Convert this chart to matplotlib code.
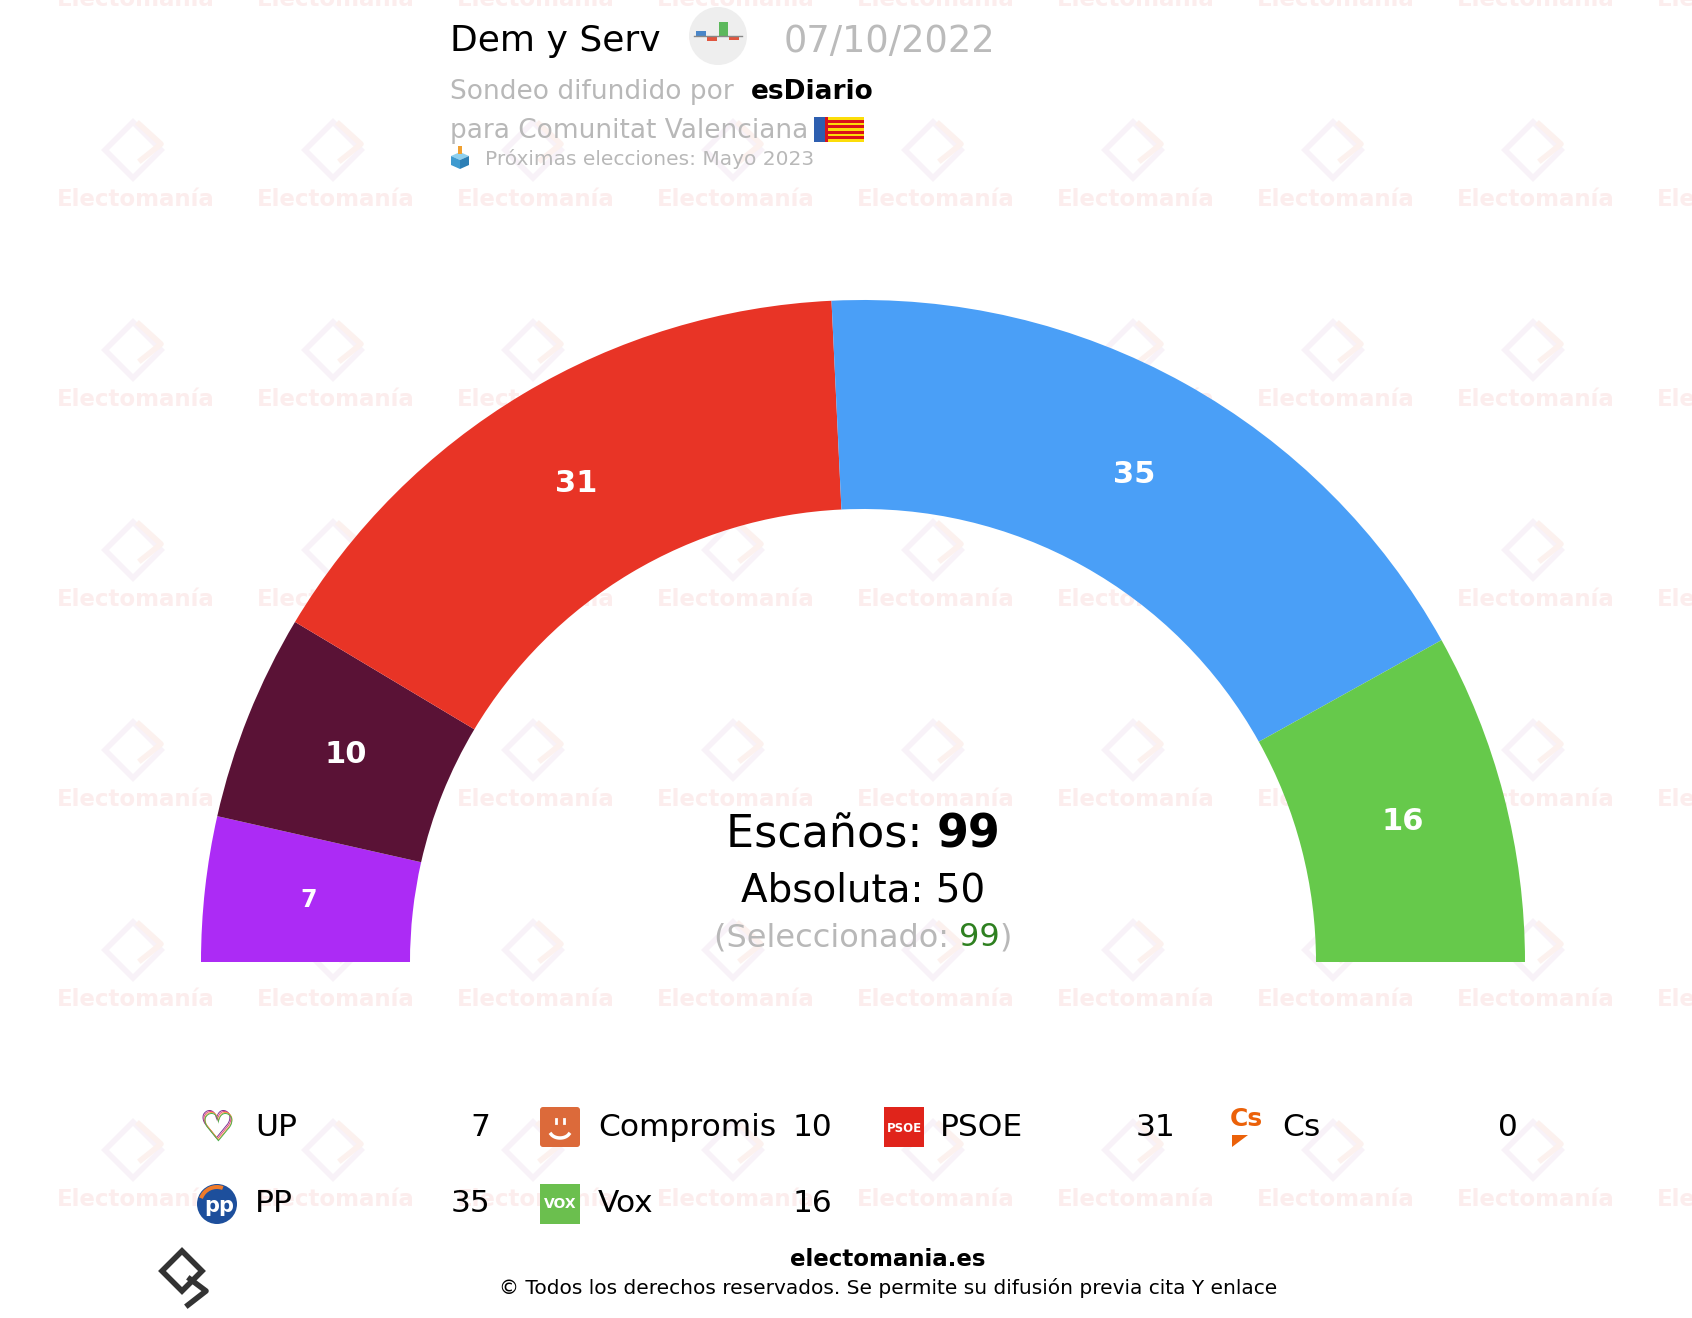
import numpy as np
import matplotlib
matplotlib.use("Agg")
import matplotlib.pyplot as plt
from matplotlib.patches import Wedge, Rectangle, Circle, Polygon, FancyBboxPatch

# DATA
parties = ["UP", "Compromis", "PSOE", "PP", "Vox", "Cs"]
seats = [7, 10, 31, 35, 16, 0]
colors = ["#AC2BF5", "#5A1236", "#E83426", "#4A9FF7", "#66C94B", "#EB6109"]
arc_order = ["UP", "Compromis", "PSOE", "PP", "Vox"]
legend_rows = [["UP", "Compromis", "PSOE", "Cs"], ["PP", "Vox"]]
total_seats = 99
majority = 50
selected = 99
pollster = "Dem y Serv"
poll_date = "07/10/2022"
media = "esDiario"
region = "Comunitat Valenciana"
next_election = "Próximas elecciones: Mayo 2023"

W, H = 1692, 1318
fig = plt.figure(figsize=(W / 100, H / 100), dpi=100)
ax = fig.add_axes([0, 0, 1, 1])
ax.set_xlim(0, W)
ax.set_ylim(H, 0)
ax.axis("off")
renderer = fig.canvas.get_renderer()

GRAY = "#B8B8B8"


def put_pieces(x, y, pieces, align="left", va="center"):
    # pieces: list of (text, kwargs); laid out one after another
    objs = []
    for s, kw in pieces:
        objs.append(ax.text(0, y, s, va=va, ha="left", **kw))
    widths = []
    for t in objs:
        bb = t.get_window_extent(renderer)
        widths.append(bb.width)
    total = sum(widths)
    x0 = x - total / 2 if align == "center" else x
    for t, w in zip(objs, widths):
        t.set_x(x0)
        x0 += w
    return x0


# watermark
for gx in np.arange(136, W + 200, 200):
    for gy in np.arange(0, H + 200, 200):
        ax.text(gx, gy, "Electomanía", ha="center", va="center", fontsize=16.5,
                fontweight="bold", color="#FCEDED", zorder=0)
        d = 28
        ax.add_patch(Polygon([[gx - 3, gy - 50 - d], [gx + d - 3, gy - 50], [gx - 3, gy - 50 + d],
                              [gx - d - 3, gy - 50]], closed=True, fill=False,
                             ec="#F8F2F8", lw=4, zorder=0))
        ax.plot([gx + 5, gx + 25, gx + 3], [gy - 40, gy - 56, gy - 76],
                color="#FCF1EE", lw=4, zorder=0)

# hemicycle
cx, cy, R, r = 863, 962, 662, 453
cum = 0
for name in arc_order:
    v = seats[parties.index(name)]
    c = colors[parties.index(name)]
    a0 = 180 - cum * 180 / total_seats
    cum += v
    a1 = 180 - cum * 180 / total_seats
    ax.add_patch(Wedge((cx, cy), R, -a0, -a1, width=R - r, fc=c, ec="none", zorder=2))
    mid = np.radians((a0 + a1) / 2)
    rm = (R + r) / 2
    fs = 17 if v < 9 else 22
    ax.text(cx + rm * np.cos(mid), cy - rm * np.sin(mid), str(v), ha="center",
            va="center", color="white", fontsize=fs, fontweight="bold", zorder=3)

# center text
put_pieces(cx, 835, [("Escaños: ", dict(fontsize=32, color="black")),
                     (str(total_seats), dict(fontsize=33, color="black", fontweight="bold"))],
           align="center")
ax.text(cx, 890, "Absoluta: %d" % majority, ha="center", va="center", fontsize=28, color="black")
put_pieces(cx, 938, [("(Seleccionado: ", dict(fontsize=23, color=GRAY)),
                     (str(selected), dict(fontsize=23, color="#2E8020")),
                     (")", dict(fontsize=23, color=GRAY))], align="center")

# header
ax.text(450, 41, pollster, ha="left", va="center", fontsize=26, color="black")
ax.add_patch(Circle((718, 36), 29, fc="#EEEEEE", ec="none"))
ax.add_patch(Rectangle((696, 31), 10, 5, fc="#4A86C8", ec="none"))
ax.add_patch(Rectangle((707, 36), 10, 5, fc="#E0563F", ec="none"))
ax.add_patch(Rectangle((719, 22), 9, 14, fc="#5CB85C", ec="none"))
ax.add_patch(Rectangle((729, 36), 10, 4, fc="#E0563F", ec="none"))
ax.plot([694, 742], [36, 36], color="#888888", lw=1)
ax.text(784, 41, poll_date, ha="left", va="center", fontsize=26.5, color="#BBBBBB")

put_pieces(450, 92, [("Sondeo difundido por  ", dict(fontsize=19, color=GRAY)),
                     (media, dict(fontsize=19, color="black", fontweight="bold"))])
xe = put_pieces(450, 131, [("para " + region, dict(fontsize=19, color=GRAY))])
# flag
fx, fy, fw, fh = xe + 6, 117, 50, 25
ax.add_patch(Rectangle((fx, fy), fw, fh, fc="#FCDD09", ec="none"))
for k in range(4):
    ax.add_patch(Rectangle((fx, fy + fh * (2 * k + 1) / 9), fw, fh / 9, fc="#DA121A", ec="none"))
ax.add_patch(Rectangle((fx, fy), fw * 0.22, fh, fc="#2E5FB0", ec="none"))
ax.add_patch(Rectangle((fx + fw * 0.22, fy), fw * 0.05, fh, fc="#DA121A", ec="none"))

# ballot box
bx, by = 460, 160
ax.add_patch(Polygon([[bx - 9, by - 4], [bx, by - 8], [bx + 9, by - 4], [bx, by]], fc="#8FD0EE", ec="none"))
ax.add_patch(Polygon([[bx - 9, by - 4], [bx, by], [bx, by + 9], [bx - 9, by + 5]], fc="#3F9BD0", ec="none"))
ax.add_patch(Polygon([[bx + 9, by - 4], [bx, by], [bx, by + 9], [bx + 9, by + 5]], fc="#2C7FB5", ec="none"))
ax.add_patch(Rectangle((bx - 2, by - 14), 4, 8, fc="#F0A030", ec="none"))
ax.text(485, 159, next_election, ha="left", va="center", fontsize=14.5, color=GRAY)


# legend icons
def icon(name, x, y):
    s = 20
    if name == "UP":
        for k, c in enumerate(["#7B2D8E", "#E0457B", "#F29A3A", "#4CAF50"]):
            ax.text(x + k * 0.8 - 1, y + k * 0.8, "\u2661", ha="center", va="center",
                    fontsize=28, color=c)
    elif name == "Compromis":
        ax.add_patch(FancyBboxPatch((x - s + 3, y - s + 3), 2 * s - 6, 2 * s - 6,
                                    boxstyle="round,pad=3", fc="#DC6A3A", ec="none"))
        t = np.linspace(0.15, 0.85, 20) * np.pi
        ax.plot(x + 10 * np.cos(t), y + 4 + 7 * np.sin(t), color="white", lw=2.5)
        ax.plot([x - 4, x - 4], [y - 8, y - 4], color="white", lw=2)
        ax.plot([x + 4, x + 4], [y - 8, y - 4], color="white", lw=2)
    elif name == "PSOE":
        ax.add_patch(Rectangle((x - s, y - s), 2 * s, 2 * s, fc="#E0241B", ec="none"))
        ax.text(x, y + 2, "PSOE", ha="center", va="center", fontsize=8.5,
                fontweight="bold", color="white")
    elif name == "Cs":
        ax.text(x, y - 8, "Cs", ha="center", va="center", fontsize=18,
                fontweight="bold", color="#EB6109")
        ax.add_patch(Polygon([[x - 14, y + 8], [x + 2, y + 8], [x - 14, y + 20]],
                             fc="#EB6109", ec="none"))
    elif name == "PP":
        ax.add_patch(Circle((x, y), s, fc="#1D4F9C", ec="none"))
        ax.add_patch(Wedge((x, y), s - 1, 200, 290, width=4, fc="#F07B2A", ec="none"))
        ax.text(x + 2, y + 2, "pp", ha="center", va="center", fontsize=15,
                fontweight="bold", color="white")
    elif name == "Vox":
        ax.add_patch(Rectangle((x - s, y - s), 2 * s, 2 * s, fc="#6BBF4E", ec="none"))
        ax.text(x, y, "VOX", ha="center", va="center", fontsize=10,
                fontweight="bold", color="white")


col_icon = [217, 560, 904, 1246]
col_name = [255, 598, 940, 1282]
col_val = [490, 832, 1175, 1518]
row_y = [1127, 1204]
for ri, row in enumerate(legend_rows):
    for ci, name in enumerate(row):
        y = row_y[ri]
        icon(name, col_icon[ci], y)
        ax.text(col_name[ci], y, name, ha="left", va="center", fontsize=22.5, color="black")
        ax.text(col_val[ci], y, str(seats[parties.index(name)]), ha="right",
                va="center", fontsize=22.5, color="black")

# footer
ax.text(888, 1259, "electomania.es", ha="center", va="center", fontsize=16.5,
        fontweight="bold", color="black")
ax.text(888, 1288, "© Todos los derechos reservados. Se permite su difusión previa cita Y enlace",
        ha="center", va="center", fontsize=14.5, color="black")
lx, ly, d = 186, 1277, 20
ax.add_patch(Polygon([[lx - 4, ly - d - 6], [lx + d - 4, ly - 6], [lx - 4, ly + d - 6],
                      [lx - d - 4, ly - 6]], closed=True, fill=False, ec="#333333", lw=4))
ax.plot([lx + 4, lx + 20, lx + 2], [ly + 2, ly + 14, ly + 28], color="#333333", lw=4)

fig.savefig("out.png", dpi=100, facecolor="white")
